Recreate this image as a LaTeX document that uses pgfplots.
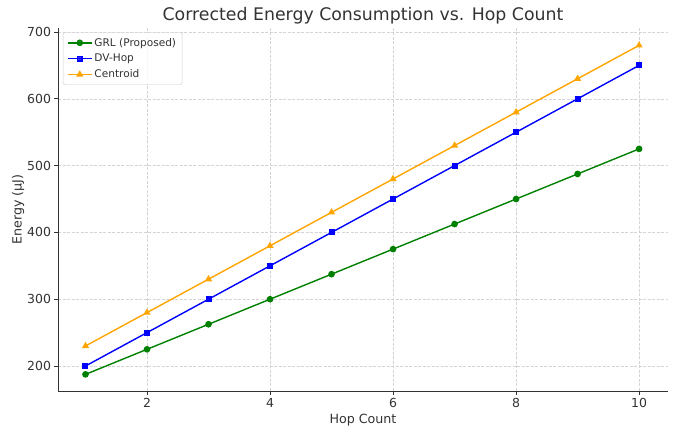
\documentclass[border=0pt]{standalone}
\usepackage{fontspec}
\setmainfont{DejaVu Sans}
\usepackage{pgfplots}
\pgfplotsset{compat=1.18}
\definecolor{txt}{HTML}{333333}
\definecolor{gridc}{HTML}{D4D4D4}
\definecolor{legc}{HTML}{CCCCCC}
\definecolor{orng}{RGB}{255,165,0}
\definecolor{grn}{RGB}{0,128,0}
\begin{document}
\begin{tikzpicture}
\path[use as bounding box] (-58bp,-39bp) rectangle (620bp,391bp);
\begin{axis}[
  at={(0,0)}, anchor=south west,
  scale only axis,
  width=610bp, height=363bp,
  xmin=0.553, xmax=10.47,
  ymin=162.6, ymax=706,
  axis x line*=bottom, axis y line*=left,
  axis line style={black!80, line width=0.8bp, -},
  xtick={2,4,6,8,10},
  ytick={200,300,400,500,600,700},
  tick align=outside,
  major tick length=3.5bp,
  tick style={black!80, line width=0.8bp},
  grid=major,
  grid style={gridc, dash pattern=on 3bp off 1.5bp, line width=0.5bp},
  ticklabel style={font=\fontsize{12.5}{14}\selectfont, text=txt},
  /pgf/number format/assume math mode=true,
  xlabel={Hop Count}, ylabel={Energy (μJ)},
  label style={font=\fontsize{12.7}{14}\selectfont, text=txt},
  xlabel style={yshift=0bp},
  ylabel style={yshift=-4bp},
  title={Corrected Energy Consumption vs. Hop Count},
  title style={font=\fontsize{17.4}{20}\selectfont, text=txt, yshift=-6bp},
  legend style={font=\fontsize{10.6}{12}\selectfont, text=txt, draw=legc, rounded corners=2bp,
    fill=white, fill opacity=0.8, text opacity=1, at={(0.008,0.988)}, anchor=north west,
    row sep=2.5bp, inner xsep=4bp, inner ysep=3.5bp},
  legend image code/.code={
    \draw[line width=1.4bp, mark repeat=2, mark phase=2]
      plot coordinates {(0bp,0bp) (12bp,0bp) (24bp,0bp)};},
  legend cell align=left,
  every axis plot/.append style={line width=1.4bp},
]
\addplot[grn, mark=*, mark size=2.6bp] coordinates {
  (1,187.5) (2,225) (3,262.5) (4,300) (5,337.5) (6,375) (7,412.5) (8,450) (9,487.5) (10,525)};
\addlegendentry{GRL (Proposed)}
\addplot[blue, mark=square*, mark size=2.3bp] coordinates {
  (1,200) (2,250) (3,300) (4,350) (5,400) (6,450) (7,500) (8,550) (9,600) (10,650)};
\addlegendentry{DV-Hop}
\addplot[orng, mark=triangle*, mark size=2.8bp] coordinates {
  (1,230) (2,280) (3,330) (4,380) (5,430) (6,480) (7,530) (8,580) (9,630) (10,680)};
\addlegendentry{Centroid}
\end{axis}
\end{tikzpicture}
\end{document}
